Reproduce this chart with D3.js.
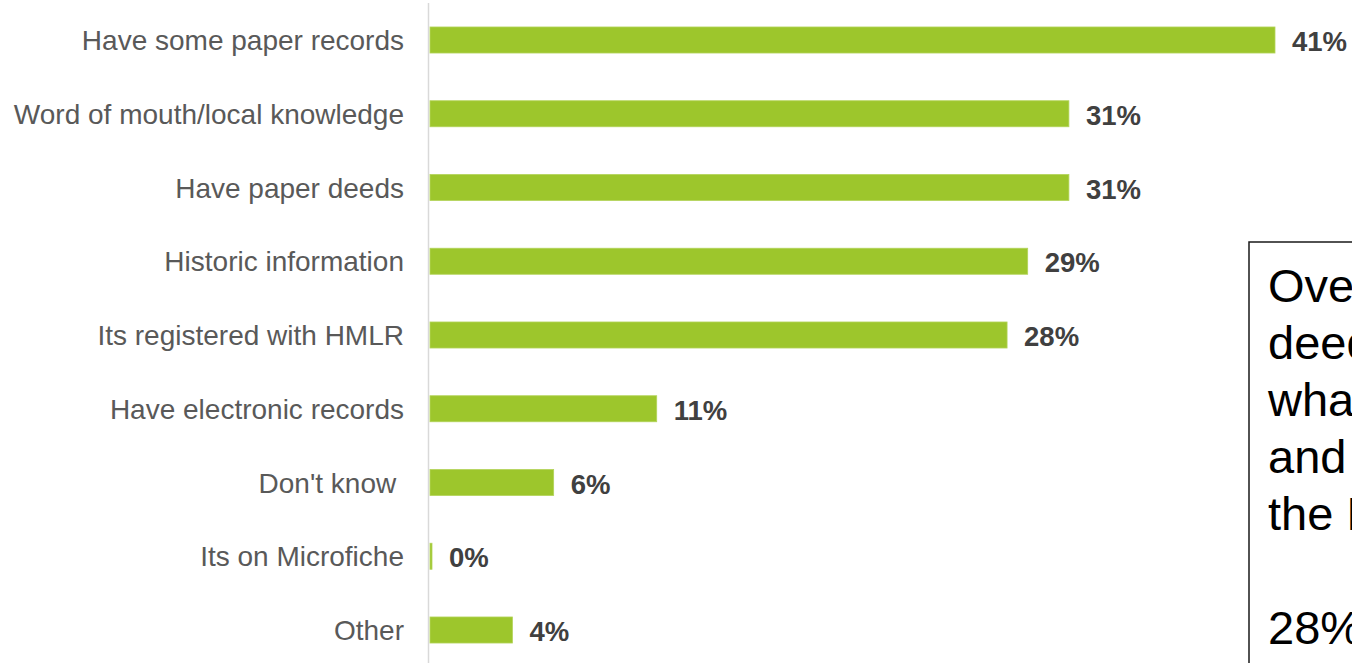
<!DOCTYPE html>
<html>
<head>
<meta charset="utf-8">
<script src="https://cdn.jsdelivr.net/npm/d3@7"></script>
<style>
  html, body { margin: 0; padding: 0; background: #fff; overflow: hidden; }
  svg { display: block; }
  text { white-space: pre; }
</style>
</head>
<body>
<svg id="chart" width="1352" height="663"></svg>
<script>
// Sources used to know land ownership (share of respondents, %)
const categories = [
  "Have some paper records",
  "Word of mouth/local knowledge",
  "Have paper deeds",
  "Historic information",
  "Its registered with HMLR",
  "Have electronic records",
  "Don't know ",
  "Its on Microfiche",
  "Other"
];
const values = [41, 31, 31, 29, 28, 11, 6, 0, 4];
const valueLabels = ["41%", "31%", "31%", "29%", "28%", "11%", "6%", "0%", "4%"];

// Commentary panel text
const noteLines = [
  "Over a third have paper",
  "deeds or records of",
  "what they own",
  "and where it is, not",
  "the HMLR register",
  "",
  "28% say it is registered"
];

const svg = d3.select("#chart");
const W = 1352, H = 663;
const font = "'Liberation Sans', Arial, sans-serif";

const x = d3.scaleLinear().domain([0, 41]).range([430, 1275]);
const y = d3.scaleBand()
  .domain(categories)
  .range([3.125, 666.875])
  .paddingInner(0.647)
  .paddingOuter(0.3235);

// vertical category axis line
svg.append("line")
  .attr("x1", 428.5).attr("x2", 428.5)
  .attr("y1", 3).attr("y2", H)
  .attr("stroke", "#d9d9d9")
  .attr("stroke-width", 1.5);

const rows = svg.append("g").selectAll("g")
  .data(categories.map((c, i) => ({ c, v: values[i], lab: valueLabels[i] })))
  .join("g");

rows.append("rect")
  .attr("x", x(0))
  .attr("y", d => y(d.c))
  .attr("width", d => Math.max(2, x(d.v) - x(0)))
  .attr("height", y.bandwidth())
  .attr("fill", "#9dc62c")
  .attr("stroke", "#b3d45a")
  .attr("stroke-width", 0.8);

rows.append("text")
  .attr("x", 404)
  .attr("y", d => y(d.c) + y.bandwidth() / 2 + 10)
  .attr("text-anchor", "end")
  .attr("font-family", font)
  .attr("font-size", 28)
  .attr("fill", "#595959")
  .text(d => d.c);

rows.append("text")
  .attr("x", d => Math.max(x(d.v), x(0) + 2) + 17)
  .attr("y", d => y(d.c) + y.bandwidth() / 2 + 11)
  .attr("font-family", font)
  .attr("font-size", 27.5)
  .attr("font-weight", "bold")
  .attr("fill", "#404040")
  .text(d => d.lab);

// commentary box, running off the right and bottom edges
const note = svg.append("g");
note.append("rect")
  .attr("x", 1249).attr("y", 242)
  .attr("width", 200).attr("height", 500)
  .attr("fill", "#fff")
  .attr("stroke", "#1a1a1a")
  .attr("stroke-width", 1.5);

note.selectAll("text")
  .data(noteLines)
  .join("text")
  .attr("x", 1268)
  .attr("y", (d, i) => 302 + i * 57)
  .attr("font-family", font)
  .attr("font-size", 47)
  .attr("fill", "#000")
  .text(d => d);
</script>
</body>
</html>
